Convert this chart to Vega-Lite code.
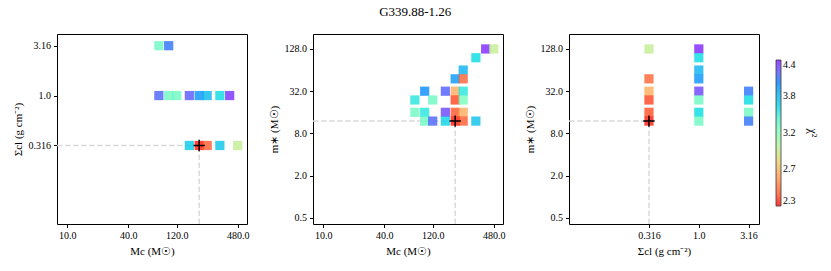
{
  "$schema": "https://vega.github.io/schema/vega-lite/v6.json",
  "title": {"text": "G339.88-1.26", "font": "Liberation Serif", "fontSize": 13, "fontWeight": "normal", "anchor": "middle", "offset": 15, "color": "black"},
  "padding": {"left": 11, "top": 5, "right": 5, "bottom": 5},
  "background": "white",
  "config": {
    "view": {"stroke": "black", "strokeWidth": 1},
    "axis": {"labelFont": "Liberation Serif", "titleFont": "Liberation Serif", "labelFontSize": 10, "titleFontSize": 11, "titleFontWeight": "normal", "domain": false, "grid": false, "tickColor": "black", "tickSize": 3.5, "labelColor": "black", "titleColor": "black", "labelPadding": 3, "titlePadding": 5},
    "legend": {"labelFont": "Liberation Serif", "labelFontSize": 10, "titleFont": "Liberation Serif", "titleFontSize": 12, "titleFontWeight": "normal", "gradientLength": 146, "gradientThickness": 5, "gradientStrokeColor": "black", "gradientStrokeWidth": 0.8, "labelOffset": 8, "titleOrient": "right", "titlePadding": 10, "labelColor": "black", "titleColor": "black"}
  },
  "datasets": {
    "p1": [
      {"mc": 80, "sig": 3.16, "chi2": 3.27},
      {"mc": 100, "sig": 3.16, "chi2": 4.05},
      {"mc": 80, "sig": 1.0, "chi2": 4.12},
      {"mc": 100, "sig": 1.0, "chi2": 3.27},
      {"mc": 120, "sig": 1.0, "chi2": 3.27},
      {"mc": 160, "sig": 1.0, "chi2": 4.2},
      {"mc": 200, "sig": 1.0, "chi2": 3.92},
      {"mc": 240, "sig": 1.0, "chi2": 3.75},
      {"mc": 320, "sig": 1.0, "chi2": 3.55},
      {"mc": 400, "sig": 1.0, "chi2": 4.38},
      {"mc": 160, "sig": 0.316, "chi2": 3.65},
      {"mc": 200, "sig": 0.316, "chi2": 2.28},
      {"mc": 240, "sig": 0.316, "chi2": 2.42},
      {"mc": 320, "sig": 0.316, "chi2": 3.68},
      {"mc": 480, "sig": 0.316, "chi2": 2.92}
    ],
    "p2": [
      {"mc": 400, "ms": 128, "chi2": 4.4},
      {"mc": 480, "ms": 128, "chi2": 2.92},
      {"mc": 320, "ms": 96, "chi2": 3.55},
      {"mc": 240, "ms": 64, "chi2": 3.78},
      {"mc": 200, "ms": 48, "chi2": 3.9},
      {"mc": 240, "ms": 48, "chi2": 2.45},
      {"mc": 100, "ms": 32, "chi2": 3.95},
      {"mc": 160, "ms": 32, "chi2": 4.15},
      {"mc": 200, "ms": 32, "chi2": 2.65},
      {"mc": 240, "ms": 32, "chi2": 3.5},
      {"mc": 80, "ms": 24, "chi2": 3.5},
      {"mc": 120, "ms": 24, "chi2": 3.27},
      {"mc": 200, "ms": 24, "chi2": 2.35},
      {"mc": 240, "ms": 24, "chi2": 3.22},
      {"mc": 80, "ms": 16, "chi2": 3.27},
      {"mc": 100, "ms": 16, "chi2": 3.5},
      {"mc": 160, "ms": 16, "chi2": 4.3},
      {"mc": 200, "ms": 16, "chi2": 2.4},
      {"mc": 240, "ms": 16, "chi2": 2.65},
      {"mc": 100, "ms": 12, "chi2": 3.27},
      {"mc": 120, "ms": 12, "chi2": 4.12},
      {"mc": 160, "ms": 12, "chi2": 3.6},
      {"mc": 200, "ms": 12, "chi2": 2.28},
      {"mc": 240, "ms": 12, "chi2": 2.42},
      {"mc": 320, "ms": 12, "chi2": 3.7}
    ],
    "p3": [
      {"sig": 0.316, "ms": 128, "chi2": 2.92},
      {"sig": 0.316, "ms": 48, "chi2": 2.45},
      {"sig": 0.316, "ms": 32, "chi2": 2.65},
      {"sig": 0.316, "ms": 24, "chi2": 2.35},
      {"sig": 0.316, "ms": 16, "chi2": 2.38},
      {"sig": 0.316, "ms": 12, "chi2": 2.28},
      {"sig": 1.0, "ms": 128, "chi2": 4.4},
      {"sig": 1.0, "ms": 96, "chi2": 3.55},
      {"sig": 1.0, "ms": 64, "chi2": 3.78},
      {"sig": 1.0, "ms": 48, "chi2": 3.92},
      {"sig": 1.0, "ms": 32, "chi2": 4.3},
      {"sig": 1.0, "ms": 24, "chi2": 3.27},
      {"sig": 1.0, "ms": 16, "chi2": 3.55},
      {"sig": 1.0, "ms": 12, "chi2": 3.27},
      {"sig": 3.16, "ms": 32, "chi2": 4.05},
      {"sig": 3.16, "ms": 24, "chi2": 3.55},
      {"sig": 3.16, "ms": 16, "chi2": 3.27},
      {"sig": 3.16, "ms": 12, "chi2": 4.05}
    ],
    "best1": [{"mc": 200, "sig": 0.316, "mcmin": 7.9, "sigmin": 0.0516}],
    "best2": [{"mc": 200, "ms": 12, "mcmin": 7.9, "msmin": 0.41}],
    "best3": [{"sig": 0.316, "ms": 12, "sigmin": 0.0498, "msmin": 0.41}]
  },
  "bounds": "flush",
  "spacing": 66,
  "resolve": {"scale": {"x": "independent", "y": "independent", "color": "shared"}, "legend": {"color": "shared"}},
  "hconcat": [
    {
      "width": 190, "height": 190,
      "layer": [
        {"data": {"name": "best1"}, "mark": {"type": "rule", "color": "#d9d9d9", "strokeWidth": 1.5, "strokeDash": [5.5, 2.5]},
         "encoding": {"x": {"field": "mcmin", "type": "quantitative", "title": "Mc (M☉)"}, "x2": {"field": "mc"}, "y": {"field": "sig", "type": "quantitative", "title": "Σcl (g cm⁻²)"}}},
        {"data": {"name": "best1"}, "mark": {"type": "rule", "color": "#d9d9d9", "strokeWidth": 1.5, "strokeDash": [5.5, 2.5]},
         "encoding": {"x": {"field": "mc", "type": "quantitative", "title": "Mc (M☉)"}, "y": {"field": "sigmin", "type": "quantitative", "title": "Σcl (g cm⁻²)"}, "y2": {"field": "sig"}}},
        {"data": {"name": "p1"}, "mark": {"type": "point", "shape": "square", "size": 85, "filled": true, "opacity": 0.78, "strokeWidth": 0},
         "encoding": {
           "x": {"field": "mc", "type": "quantitative", "title": "Mc (M☉)", "scale": {"type": "log", "domain": [7.9, 593], "nice": false, "zero": false}, "axis": {"values": [10, 40, 120, 480], "format": ".1f"}},
           "y": {"field": "sig", "type": "quantitative", "title": "Σcl (g cm⁻²)", "scale": {"type": "log", "domain": [0.0516, 4.14], "nice": false, "zero": false}, "axis": {"values": [0.316, 1, 3.16], "labelExpr": "datum.value == 1 ? '1.0' : format(datum.value, '~g')"}},
           "color": {"field": "chi2", "type": "quantitative", "scale": {"type": "log", "domain": [2.27, 2.469, 2.685, 2.919, 3.175, 3.452, 3.755, 4.083, 4.44], "range": ["#ff0000", "#ff6232", "#ffb462", "#c0ec8e", "#80ffb4", "#40ecd4", "#00b4eb", "#4062fa", "#8000ff"]},
             "legend": {"title": "χ²", "values": [2.27, 2.685, 3.175, 3.755, 4.44], "format": ".1f", "orient": "none", "legendX": 719, "legendY": 26, "direction": "vertical"}}
         }},
        {"data": {"name": "best1"}, "mark": {"type": "point", "shape": "M-1,0H1M0,-1V1", "size": 130, "filled": false, "color": "black", "strokeWidth": 1.5, "opacity": 1},
         "encoding": {"x": {"field": "mc", "type": "quantitative", "title": "Mc (M☉)"}, "y": {"field": "sig", "type": "quantitative", "title": "Σcl (g cm⁻²)"}}}
      ]
    },
    {
      "width": 190, "height": 190,
      "layer": [
        {"data": {"name": "best2"}, "mark": {"type": "rule", "color": "#d9d9d9", "strokeWidth": 1.5, "strokeDash": [5.5, 2.5]},
         "encoding": {"x": {"field": "mcmin", "type": "quantitative", "title": "Mc (M☉)"}, "x2": {"field": "mc"}, "y": {"field": "ms", "type": "quantitative", "title": "m∗ (M☉)"}}},
        {"data": {"name": "best2"}, "mark": {"type": "rule", "color": "#d9d9d9", "strokeWidth": 1.5, "strokeDash": [5.5, 2.5]},
         "encoding": {"x": {"field": "mc", "type": "quantitative", "title": "Mc (M☉)"}, "y": {"field": "msmin", "type": "quantitative", "title": "m∗ (M☉)"}, "y2": {"field": "ms"}}},
        {"data": {"name": "p2"}, "mark": {"type": "point", "shape": "square", "size": 85, "filled": true, "opacity": 0.78, "strokeWidth": 0},
         "encoding": {
           "x": {"field": "mc", "type": "quantitative", "title": "Mc (M☉)", "scale": {"type": "log", "domain": [7.9, 593], "nice": false, "zero": false}, "axis": {"values": [10, 40, 120, 480], "format": ".1f"}},
           "y": {"field": "ms", "type": "quantitative", "title": "m∗ (M☉)", "scale": {"type": "log", "domain": [0.41, 209], "nice": false, "zero": false}, "axis": {"values": [0.5, 2, 8, 32, 128], "format": ".1f"}},
           "color": {"field": "chi2", "type": "quantitative", "scale": {"type": "log", "domain": [2.27, 2.469, 2.685, 2.919, 3.175, 3.452, 3.755, 4.083, 4.44], "range": ["#ff0000", "#ff6232", "#ffb462", "#c0ec8e", "#80ffb4", "#40ecd4", "#00b4eb", "#4062fa", "#8000ff"]},
             "legend": {"title": "χ²", "values": [2.27, 2.685, 3.175, 3.755, 4.44], "format": ".1f", "orient": "none", "legendX": 719, "legendY": 26, "direction": "vertical"}}
         }},
        {"data": {"name": "best2"}, "mark": {"type": "point", "shape": "M-1,0H1M0,-1V1", "size": 130, "filled": false, "color": "black", "strokeWidth": 1.5, "opacity": 1},
         "encoding": {"x": {"field": "mc", "type": "quantitative", "title": "Mc (M☉)"}, "y": {"field": "ms", "type": "quantitative", "title": "m∗ (M☉)"}}}
      ]
    },
    {
      "width": 190, "height": 190,
      "layer": [
        {"data": {"name": "best3"}, "mark": {"type": "rule", "color": "#d9d9d9", "strokeWidth": 1.5, "strokeDash": [5.5, 2.5]},
         "encoding": {"x": {"field": "sigmin", "type": "quantitative", "title": "Σcl (g cm⁻²)"}, "x2": {"field": "sig"}, "y": {"field": "ms", "type": "quantitative", "title": "m∗ (M☉)"}}},
        {"data": {"name": "best3"}, "mark": {"type": "rule", "color": "#d9d9d9", "strokeWidth": 1.5, "strokeDash": [5.5, 2.5]},
         "encoding": {"x": {"field": "sig", "type": "quantitative", "title": "Σcl (g cm⁻²)"}, "y": {"field": "msmin", "type": "quantitative", "title": "m∗ (M☉)"}, "y2": {"field": "ms"}}},
        {"data": {"name": "p3"}, "mark": {"type": "point", "shape": "square", "size": 85, "filled": true, "opacity": 0.78, "strokeWidth": 0},
         "encoding": {
           "x": {"field": "sig", "type": "quantitative", "title": "Σcl (g cm⁻²)", "scale": {"type": "log", "domain": [0.0498, 4.02], "nice": false, "zero": false}, "axis": {"values": [0.316, 1, 3.16], "labelExpr": "datum.value == 1 ? '1.0' : format(datum.value, '~g')"}},
           "y": {"field": "ms", "type": "quantitative", "title": "m∗ (M☉)", "scale": {"type": "log", "domain": [0.41, 209], "nice": false, "zero": false}, "axis": {"values": [0.5, 2, 8, 32, 128], "format": ".1f"}},
           "color": {"field": "chi2", "type": "quantitative", "scale": {"type": "log", "domain": [2.27, 2.469, 2.685, 2.919, 3.175, 3.452, 3.755, 4.083, 4.44], "range": ["#ff0000", "#ff6232", "#ffb462", "#c0ec8e", "#80ffb4", "#40ecd4", "#00b4eb", "#4062fa", "#8000ff"]},
             "legend": {"title": "χ²", "values": [2.27, 2.685, 3.175, 3.755, 4.44], "format": ".1f", "orient": "none", "legendX": 719, "legendY": 26, "direction": "vertical"}}
         }},
        {"data": {"name": "best3"}, "mark": {"type": "point", "shape": "M-1,0H1M0,-1V1", "size": 130, "filled": false, "color": "black", "strokeWidth": 1.5, "opacity": 1},
         "encoding": {"x": {"field": "sig", "type": "quantitative", "title": "Σcl (g cm⁻²)"}, "y": {"field": "ms", "type": "quantitative", "title": "m∗ (M☉)"}}}
      ]
    }
  ]
}
